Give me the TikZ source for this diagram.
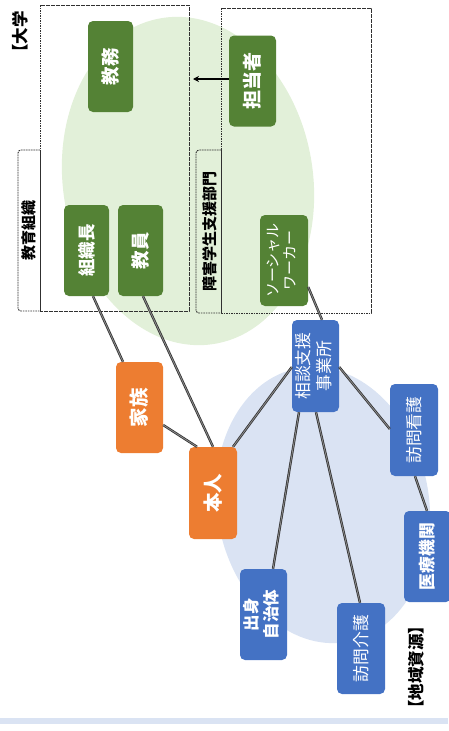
\documentclass[tikz,border=0pt]{standalone}
\usepackage{graphicx}
\usepackage{fontspec}
\setmainfont{Noto Sans CJK JP}
\usetikzlibrary{calc,arrows.meta}
\definecolor{ngreen}{HTML}{548235}
\definecolor{norange}{HTML}{ED7D31}
\definecolor{nblue}{HTML}{4472C4}
\definecolor{lgreen}{HTML}{E2F0D9}
\definecolor{lblue}{HTML}{DAE3F3}
\definecolor{dline}{HTML}{303030}
\newcommand\rtxt[1]{\rotatebox{90}{#1}}
\newcommand\rtwo[2]{\rotatebox{90}{\begin{tabular}{@{}c@{}}#1\\#2\end{tabular}}}
\tikzset{
  nodebox/.style={rounded corners=5pt, text=white, inner sep=0pt,
    minimum width=47pt, minimum height=91pt, align=center},
  gbox/.style={nodebox, fill=ngreen, font=\bfseries\fontsize{19}{22}\selectfont},
  obox/.style={nodebox, fill=norange, font=\bfseries\fontsize{19.5}{22}\selectfont},
  bbox/.style={nodebox, fill=nblue, font=\fontsize{16.8}{20}\selectfont},
  bbbox/.style={nodebox, fill=nblue, font=\bfseries\fontsize{16.8}{20}\selectfont},
  dbox/.style={draw=dline, line width=0.9pt, dash pattern=on 1.6pt off 0.9pt},
  tabbox/.style={dbox, rounded corners=3pt},
  tablabel/.style={inner sep=0pt, font=\bfseries\fontsize{15}{18}\selectfont},
  grplabel/.style={inner sep=0pt, font=\bfseries\fontsize{16.5}{18}\selectfont},
  conn/.style={draw=black!80, line width=0.8pt, double=black!45, double distance=0.8pt},
  arr/.style={draw=black, line width=1.4pt, -{Stealth[length=6pt,width=6pt]}}
}
\begin{document}
\begin{tikzpicture}[x=1pt,y=-1pt]
\useasboundingbox (0,0) rectangle (448,731);
% background regions
\fill[lgreen, rotate around={9:(188,181)}] (188,181) ellipse [x radius=125pt, y radius=165pt];
\fill[lblue, rotate around={10:(323,505)}] (323,505) ellipse [x radius=106pt, y radius=139pt];
\fill[lblue] (0,718) rectangle (448,724);
% dashed groups
\draw[dbox] (40,5) rectangle (189,311);
\draw[tabbox] (40,150) -- (18,150) -- (18,311) -- (40,311);
\draw[dline, line width=0.8pt] (40,150) -- (40,311);
\draw[dbox] (221,8) rectangle (371,313);
\draw[tabbox] (221,150) -- (196,150) -- (196,313) -- (221,313);
\draw[dline, line width=0.8pt] (221,150) -- (221,313);
\node[tablabel] (lbledu) at (29,230) {\rtxt{教育組織}};
\node[tablabel] (lblsup) at (210,231) {\rtxt{障害学生支援部門}};
\node[grplabel, anchor=south] (lbluni) at (20,61) {\rtxt{【大学}};
\node[grplabel] (lblreg) at (416,667) {\rtxt{【地域資源】}};
% nodes
\node[gbox, minimum width=45pt, font=\bfseries\fontsize{18.5}{22}\selectfont] (kyomu) at (110.5,66.5) {\rtxt{教務}};
\node[gbox] (tanto) at (252.5,81) {\rtxt{担当者}};
\node[gbox, minimum width=45pt, font=\bfseries\fontsize{17.5}{22}\selectfont] (soshiki) at (86.5,250.5) {\rtxt{組織長}};
\node[gbox, minimum width=45pt, font=\bfseries\fontsize{18.5}{22}\selectfont] (kyoin) at (140.5,250.5) {\rtxt{教員}};
\node[gbox, font=\fontsize{15}{17}\selectfont, minimum width=48pt] (sw) at (284,260.5) {\rtwo{ソーシャル}{ワーカー}};
\node[obox] (kazoku) at (139.5,407.5) {\rtxt{家族}};
\node[obox, minimum width=48pt, minimum height=92pt] (honnin) at (213,493) {\rtxt{本人}};
\node[bbox, font=\fontsize{16.8}{21}\selectfont, minimum height=92pt] (sodan) at (315.5,366) {\rtwo{相談支援}{事業所}};
\node[bbox, minimum width=48pt, minimum height=92pt] (houkan) at (414,430) {\rtxt{訪問看護}};
\node[bbbox] (iryo) at (427.5,556.5) {\rtxt{医療機関}};
\node[bbbox, font=\bfseries\fontsize{16.5}{20}\selectfont] (shusshin) at (263.5,614.5) {\rtwo{出身}{自治体}};
\node[bbox, minimum width=48pt] (houkai) at (361,648.5) {\rtxt{訪問介護}};
% connectors
\coordinate (arrend) at (193,79);
\draw[arr] ([yshift=2pt]tanto.west) -- (arrend);
\draw[conn] ([xshift=6.5pt]soshiki.south) -- ([xshift=-16.5pt]kazoku.north);
\draw[conn] ([xshift=2.5pt]kyoin.south) -- (honnin.north);
\draw[conn] ([yshift=-17.5pt]kazoku.east) -- ([xshift=-16pt]honnin.north);
\draw[conn] ([xshift=20pt]honnin.north) -- ([yshift=-1pt]sodan.west);
\draw[conn] ([yshift=-26.5pt]sw.east) -- ([xshift=6.5pt]sodan.north);
\draw[conn] ([xshift=-16.5pt]sodan.south) -- ([xshift=9.5pt]shusshin.north);
\draw[conn] ([xshift=0.5pt]sodan.south) -- ([xshift=-1pt]houkai.north);
\draw[conn] ([yshift=-1pt]sodan.east) -- ([yshift=1pt]houkan.west);
\draw[conn] ([xshift=1pt]houkan.south) -- ([xshift=-0.5pt]iryo.north);
\end{tikzpicture}
\end{document}
